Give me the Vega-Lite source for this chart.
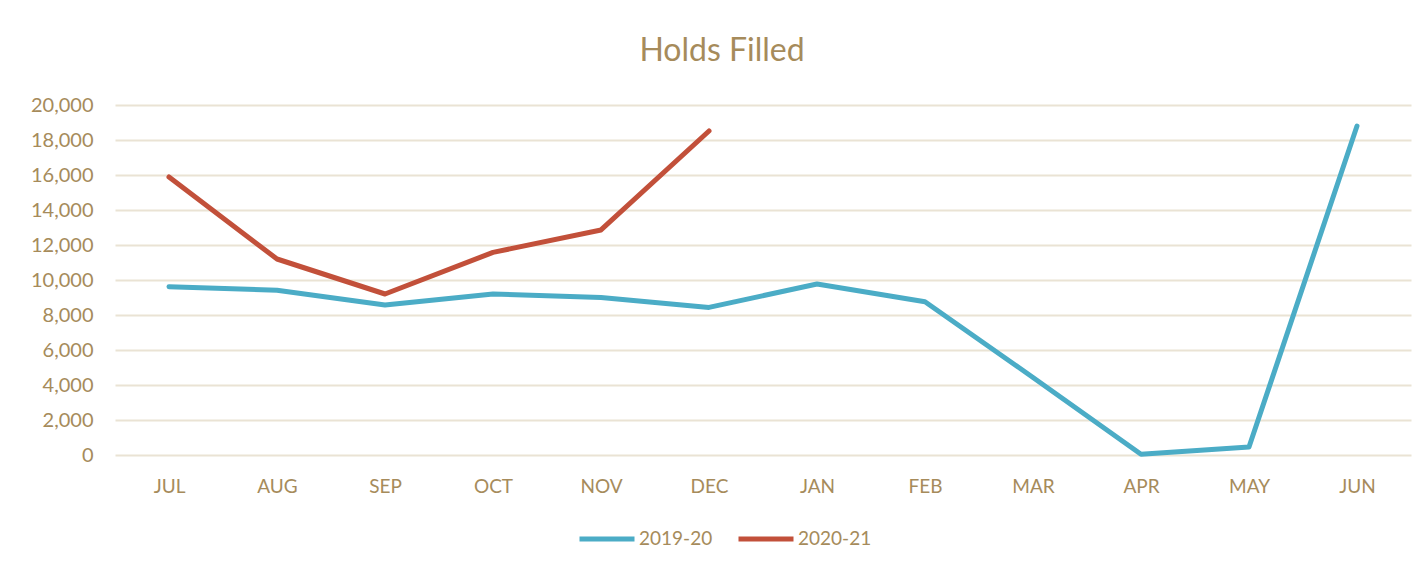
{
  "$schema": "https://vega.github.io/schema/vega-lite/v6.json",
  "autosize": {"type": "none"},
  "width": 1296,
  "height": 350,
  "padding": {"left": 115, "top": 105, "right": 12, "bottom": 119},
  "background": "white",
  "title": {
    "text": "Holds Filled",
    "fontSize": 32,
    "font": "Lato",
    "fontWeight": "normal",
    "color": "#A68B5B",
    "anchor": "middle",
    "dx": -41,
    "baseline": "bottom",
    "offset": -5
  },
  "data": {
    "values": [
      {"month": "JUL", "season": "2019-20", "holds": 9620},
      {"month": "AUG", "season": "2019-20", "holds": 9420},
      {"month": "SEP", "season": "2019-20", "holds": 8570},
      {"month": "OCT", "season": "2019-20", "holds": 9200},
      {"month": "NOV", "season": "2019-20", "holds": 9000},
      {"month": "DEC", "season": "2019-20", "holds": 8435},
      {"month": "JAN", "season": "2019-20", "holds": 9770},
      {"month": "FEB", "season": "2019-20", "holds": 8760},
      {"month": "MAR", "season": "2019-20", "holds": 4430},
      {"month": "APR", "season": "2019-20", "holds": 40},
      {"month": "MAY", "season": "2019-20", "holds": 460},
      {"month": "JUN", "season": "2019-20", "holds": 18800},
      {"month": "JUL", "season": "2020-21", "holds": 15885},
      {"month": "AUG", "season": "2020-21", "holds": 11200},
      {"month": "SEP", "season": "2020-21", "holds": 9200},
      {"month": "OCT", "season": "2020-21", "holds": 11580},
      {"month": "NOV", "season": "2020-21", "holds": 12860},
      {"month": "DEC", "season": "2020-21", "holds": 18515}
    ]
  },
  "mark": {"type": "line", "strokeWidth": 5, "strokeCap": "round", "strokeJoin": "round"},
  "encoding": {
    "x": {
      "field": "month",
      "type": "ordinal",
      "sort": ["JUL","AUG","SEP","OCT","NOV","DEC","JAN","FEB","MAR","APR","MAY","JUN"],
      "scale": {"type": "point", "padding": 0.5},
      "axis": {
        "title": null,
        "domain": false,
        "ticks": false,
        "grid": false,
        "labelAngle": 0,
        "labelPadding": 22,
        "labelFontSize": 19,
        "labelFont": "Lato",
        "labelColor": "#A68B5B"
      }
    },
    "y": {
      "field": "holds",
      "type": "quantitative",
      "scale": {"domain": [0, 20000], "nice": false},
      "axis": {
        "title": null,
        "domain": false,
        "ticks": false,
        "values": [0,2000,4000,6000,8000,10000,12000,14000,16000,18000,20000],
        "format": ",.0f",
        "labelPadding": 22,
        "labelFontSize": 20,
        "labelFont": "Lato",
        "labelColor": "#A68B5B",
        "gridColor": "#EAE3D4",
        "gridWidth": 2
      }
    },
    "color": {
      "field": "season",
      "type": "nominal",
      "scale": {"domain": ["2019-20", "2020-21"], "range": ["#4BACC6", "#C2503A"]},
      "legend": {
        "title": null,
        "orient": "none",
        "direction": "horizontal",
        "legendX": 462,
        "legendY": 404,
        "symbolType": "stroke",
        "symbolSize": 3025,
        "symbolStrokeWidth": 5,
        "labelFontSize": 19,
        "labelFont": "Lato",
        "labelColor": "#A68B5B",
        "labelOffset": 2,
        "columnPadding": 15
      }
    }
  },
  "config": {"view": {"stroke": null}}
}
